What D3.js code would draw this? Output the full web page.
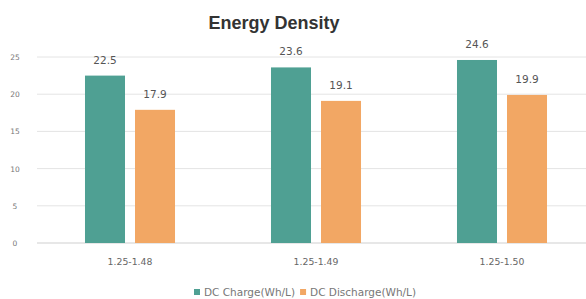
<!DOCTYPE html>
<html>
<head>
<meta charset="utf-8">
<script src="https://cdn.jsdelivr.net/npm/d3@7"></script>
<style>
  body { margin: 0; background: #fff; }
  text { font-family: "DejaVu Sans", sans-serif; }
  text.title { font-family: "Liberation Sans", Arial, sans-serif; }
</style>
</head>
<body>
<svg id="chart" width="586" height="299"></svg>
<script>
var categories = ['1.25-1.48', '1.25-1.49', '1.25-1.50'] ;
var seriesNames = ['DC Charge(Wh/L)', 'DC Discharge(Wh/L)'] ;
var chargeValues = [22.5, 23.6, 24.6] ;
var dischargeValues = [17.9, 19.1, 19.9] ;
var yTicks = [0, 5, 10, 15, 20, 25] ;
var colors = ['#4fa093', '#f2a764'] ;

var width = 586, height = 299 ;
var svg = d3.select('#chart') ;

var x = d3.scaleBand().domain(categories).range([37, 595]).paddingInner(0.516).paddingOuter(0.258) ;
var xs = d3.scaleBand().domain(seriesNames).range([0, x.bandwidth()]).paddingInner(0.2) ;
var y = d3.scaleLinear().domain([0, 25]).range([243, 57]) ;

// title
svg.append('text').attr('class', 'title').attr('x', 274).attr('y', 29).attr('text-anchor', 'middle')
  .style('font-size', '18px').style('font-weight', 'bold').attr('fill', '#333')
  .text('Energy Density') ;

// grid + y labels
yTicks.forEach(function(t) {
  svg.append('line').attr('x1', 37).attr('x2', width).attr('y1', y(t)).attr('y2', y(t))
    .attr('stroke', t == 0 ? '#cfcfcf' : '#e4e4e4').attr('stroke-width', 1) ;
  svg.append('text').attr('x', 15).attr('y', y(t) + 3).attr('text-anchor', 'middle')
    .style('font-size', '7.5px').attr('fill', '#777').text(t) ;
}) ;

var data = [chargeValues, dischargeValues] ;
categories.forEach(function(c, i) {
  seriesNames.forEach(function(s, j) {
    var v = data[j][i] ;
    var bx = x(c) + xs(s) ;
    svg.append('rect').attr('x', bx).attr('y', y(v)).attr('width', xs.bandwidth())
      .attr('height', y(0) - y(v)).attr('fill', colors[j]) ;
    svg.append('text').attr('x', bx + xs.bandwidth() / 2).attr('y', y(v) - 12)
      .attr('text-anchor', 'middle').style('font-size', '10.5px').attr('fill', '#555').text(v) ;
  }) ;
  svg.append('text').attr('x', x(c) + x.bandwidth() / 2).attr('y', 265).attr('text-anchor', 'middle')
    .style('font-size', '9.3px').attr('fill', '#666').text(c) ;
}) ;

// legend
var lx = 194 ;
seriesNames.forEach(function(s, j) {
  svg.append('rect').attr('x', lx).attr('y', 289).attr('width', 6).attr('height', 6).attr('fill', colors[j]) ;
  var t = svg.append('text').attr('x', lx + 10).attr('y', 296).style('font-size', '10.5px').attr('fill', '#777').text(s) ;
  lx += 10 + t.node().getComputedTextLength() + 5 ;
}) ;
</script>
</body>
</html>
